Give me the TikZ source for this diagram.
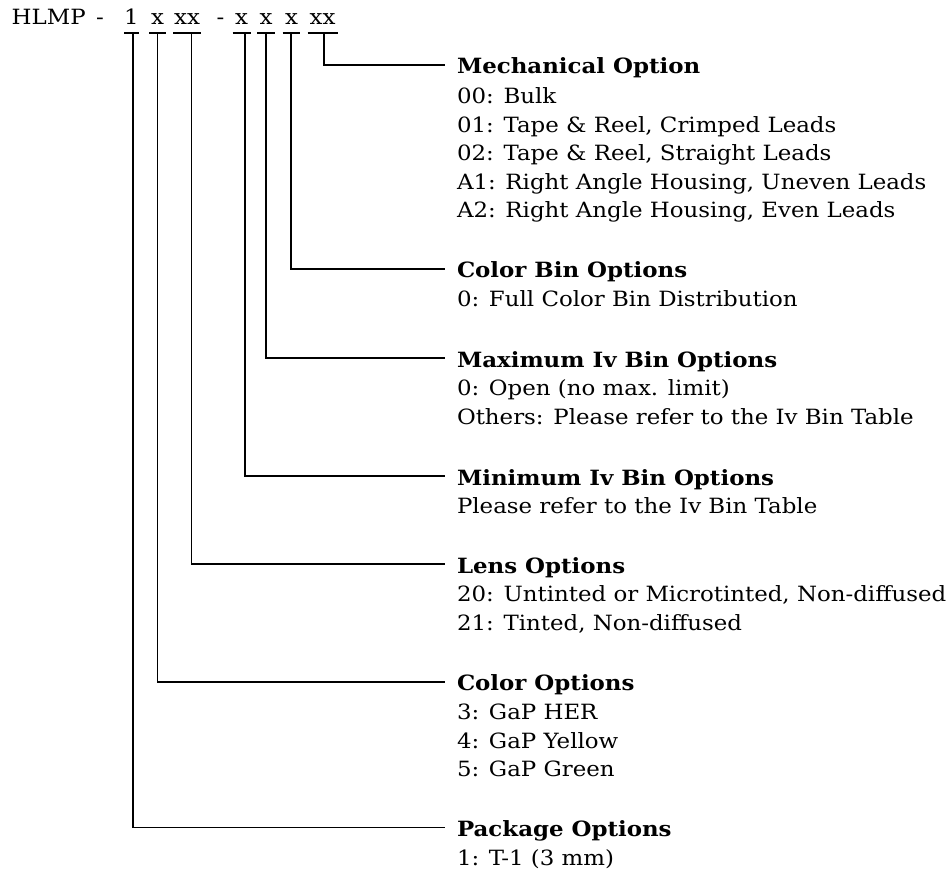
\documentclass[tikz,border=0pt]{standalone}
\usepackage{fontspec}
\setmainfont{DejaVu Serif}[FakeStretch=1.09]
\begin{document}
\begin{tikzpicture}[x=1pt,y=-1pt,
  txt/.style={inner sep=0pt,outer sep=0pt,anchor=base west,font=\fontsize{21}{25}\selectfont},
  head/.style={txt,font=\fontsize{21}{25}\selectfont\bfseries},
  tok/.style={inner sep=0pt,outer sep=0pt,anchor=base,font=\fontsize{21}{25}\selectfont},
  uline/.style={line width=2pt},
  conn/.style={line width=1.1pt}]
\useasboundingbox (0,0) rectangle (950,874);
% top code row
\node[txt] (hlmp) at (11.7,25) {HLMP};
\node[tok] (d1) at (100,25) {-};
\node[tok] (t1) at (131.5,25) {1};
\node[tok] (t2) at (157.5,25) {x};
\node[tok] (t3) at (187,25) {xx};
\node[tok] (d2) at (220.5,25) {-};
\node[tok] (t4) at (241.5,25) {x};
\node[tok] (t5) at (266,25) {x};
\node[tok] (t6) at (291.5,25) {x};
\node[tok] (t7) at (322.5,25) {xx};
% underlines
\draw[uline] (124,33) -- (139,33);
\draw[uline] (149,33) -- (166,33);
\draw[uline] (173,33) -- (201,33);
\draw[uline] (232.5,33) -- (250.5,33);
\draw[uline] (257.3,33) -- (275,33);
\draw[uline] (282.7,33) -- (300,33);
\draw[uline] (307.5,33) -- (337.5,33);
\coordinate (u1) at (133,33);
\coordinate (u2) at (157.5,33);
\coordinate (u3) at (191.5,33);
\coordinate (u4) at (245,33);
\coordinate (u5) at (266,33);
\coordinate (u6) at (291,33);
\coordinate (u7) at (324,33);
% line ends
\coordinate (eMech) at (445,65);
\coordinate (eCBin) at (445,269);
\coordinate (eMax) at (445,358);
\coordinate (eMin) at (445,476);
\coordinate (eLens) at (445,564);
\coordinate (eCol) at (445,682);
\coordinate (ePack) at (445,827.5);
\draw[conn] (u7) |- (eMech);
\draw[conn] (u6) |- (eCBin);
\draw[conn] (u5) |- (eMax);
\draw[conn] (u4) |- (eMin);
\draw[conn] (u3) |- (eLens);
\draw[conn] (u2) |- (eCol);
\draw[conn] (u1) |- (ePack);
% text blocks
\node[head] (hMech) at (457,74) {Mechanical Option};
\node[txt] (m1) at (457,103.6) {00: Bulk};
\node[txt] (m2) at (457,132.2) {01: Tape \& Reel, Crimped Leads};
\node[txt] (m3) at (457,160.8) {02: Tape \& Reel, Straight Leads};
\node[txt] (m4) at (457,189.4) {A1: Right Angle Housing, Uneven Leads};
\node[txt] (m5) at (457,218) {A2: Right Angle Housing, Even Leads};
\node[head] (hCBin) at (457,278) {Color Bin Options};
\node[txt] (c1) at (457,306.8) {0: Full Color Bin Distribution};
\node[head] (hMax) at (457,367) {Maximum Iv Bin Options};
\node[txt] (x1) at (457,395.8) {0: Open (no max. limit)};
\node[txt] (x2) at (457,424.6) {Others: Please refer to the Iv Bin Table};
\node[head] (hMin) at (457,485) {Minimum Iv Bin Options};
\node[txt] (n1) at (457,513.8) {Please refer to the Iv Bin Table};
\node[head] (hLens) at (457,573) {Lens Options};
\node[txt] (l1) at (457,601.7) {20: Untinted or Microtinted, Non-diffused};
\node[txt] (l2) at (457,630.5) {21: Tinted, Non-diffused};
\node[head] (hCol) at (457,690.5) {Color Options};
\node[txt] (k1) at (457,719.3) {3: GaP HER};
\node[txt] (k2) at (457,748) {4: GaP Yellow};
\node[txt] (k3) at (457,776.8) {5: GaP Green};
\node[head] (hPack) at (457,836.5) {Package Options};
\node[txt] (p1) at (457,865) {1: T-1 (3 mm)};
\end{tikzpicture}
\end{document}
